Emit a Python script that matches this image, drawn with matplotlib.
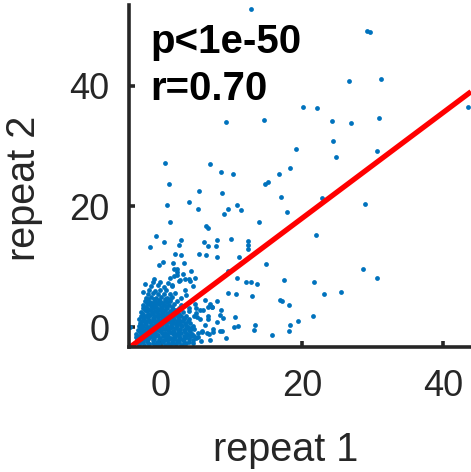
import matplotlib
matplotlib.use("Agg")
import matplotlib.pyplot as plt
import numpy as np

plt.rcParams["font.family"] = ["Liberation Sans", "DejaVu Sans"]

# dense core of the repeat-1 / repeat-2 scatter, one row per line
core_x = [
    -3.1, -2.4, -1.7, -0.9, -0.3, 0.6, 1.3, 2.1, 2.9, 3.6,
    -3.4, -2.8, -2.0, -1.2, -0.6, 0.2, 0.9, 1.6, 2.3, 3.1, 3.9, 4.6,
    -3.6, -2.9, -2.3, -1.5, -0.8, -0.1, 0.7, 1.4, 2.0, 2.7, 3.5, 4.2, 5.0,
    -3.5, -2.7, -2.1, -1.3, -0.6, 0.1, 0.8, 1.5, 2.2, 2.9, 3.7, 4.4, 5.3,
    -3.3, -2.5, -1.8, -1.1, -0.4, 0.3, 1.0, 1.7, 2.4, 3.2, 3.9, 4.7,
    -3.2, -2.6, -1.9, -1.2, -0.5, 0.2, 0.9, 1.6, 2.3, 3.0, 3.8, 4.5,
    -3.0, -2.3, -1.6, -0.9, -0.2, 0.5, 1.2, 1.9, 2.6, 3.4, 4.1,
    -3.1, -2.4, -1.7, -1.0, -0.3, 0.4, 1.1, 1.8, 2.5, 3.3, 4.0,
    -2.9, -2.2, -1.5, -0.8, -0.1, 0.6, 1.3, 2.0, 2.8, 3.6,
    -2.8, -2.0, -1.3, -0.6, 0.1, 0.8, 1.5, 2.3, 3.1,
    -2.6, -1.9, -1.2, -0.5, 0.2, 0.9, 1.7, 2.5,
    -2.5, -1.8, -1.0, -0.3, 0.4, 1.1, 1.9, 2.8,
    -2.3, -1.6, -0.9, -0.2, 0.5, 1.3, 2.2,
    -2.2, -1.4, -0.7, 0.0, 0.8, 1.6,
    -1.9, -1.1, -0.4, 0.4, 1.2,
    -1.7, -0.9, -0.1, 0.7,
    -1.4, -0.5, 0.4, 1.5,
    -1.1, -0.2, 1.0,
]
core_y = [
    -2.9, -3.0, -2.8, -2.95, -2.85, -3.0, -2.9, -2.8, -3.05, -2.7,
    -2.2, -2.4, -2.3, -2.15, -2.45, -2.3, -2.2, -2.5, -2.3, -2.1, -2.4, -2.2,
    -1.7, -1.6, -1.85, -1.7, -1.55, -1.8, -1.65, -1.75, -1.6, -1.85, -1.7, -1.5, -1.8,
    -1.1, -1.2, -0.95, -1.1, -1.25, -1.0, -1.15, -1.05, -1.2, -1.0, -1.1, -1.2, -0.9,
    -0.5, -0.4, -0.6, -0.45, -0.55, -0.35, -0.5, -0.6, -0.4, -0.55, -0.45, -0.3,
    0.1, 0.2, 0.0, 0.15, 0.05, 0.2, 0.1, 0.0, 0.25, 0.1, 0.0, 0.2,
    0.7, 0.65, 0.8, 0.7, 0.6, 0.75, 0.85, 0.7, 0.6, 0.75, 0.7,
    1.3, 1.4, 1.25, 1.35, 1.2, 1.3, 1.45, 1.3, 1.2, 1.4, 1.3,
    1.9, 1.8, 2.0, 1.85, 1.95, 1.9, 1.8, 2.0, 1.9, 1.85,
    2.5, 2.6, 2.45, 2.55, 2.5, 2.4, 2.6, 2.5, 2.45,
    3.1, 3.0, 3.2, 3.05, 3.15, 3.1, 3.0, 3.2,
    3.7, 3.8, 3.65, 3.75, 3.7, 3.6, 3.8, 3.7,
    4.3, 4.2, 4.4, 4.3, 4.25, 4.35, 4.3,
    4.9, 5.0, 4.85, 4.95, 4.9, 5.0,
    5.5, 5.6, 5.45, 5.55, 5.5,
    6.1, 6.0, 6.2, 6.1,
    6.8, 6.9, 6.7, 6.85,
    7.4, 7.5, 7.3,
]

# points sitting between the core rows, where the blob is solid
fill_x = [
    -3.2, -2.5, -1.8, -1.1, -0.4, 0.3, 1.0, 1.7, 2.5, 3.3,
    -3.3, -2.6, -1.9, -1.0, -0.3, 0.4, 1.1, 1.8, 2.5, 3.2, 4.0,
    -3.2, -2.5, -1.8, -1.1, -0.4, 0.3, 1.0, 1.8, 2.5, 3.2, 3.9, 4.7,
    -3.0, -2.3, -1.6, -0.9, -0.2, 0.5, 1.2, 1.9, 2.6, 3.4, 4.1,
    -2.9, -2.2, -1.5, -0.8, -0.1, 0.6, 1.3, 2.0, 2.7, 3.5, 4.2,
    -2.8, -2.1, -1.4, -0.7, 0.0, 0.7, 1.4, 2.1, 2.9, 3.6,
    -2.7, -2.0, -1.3, -0.6, 0.1, 0.8, 1.5, 2.2, 3.0, 3.8,
    -2.6, -1.9, -1.2, -0.5, 0.2, 0.9, 1.6, 2.4, 3.2,
    -2.5, -1.8, -1.1, -0.4, 0.3, 1.0, 1.7, 2.6,
    -2.3, -1.6, -0.9, -0.2, 0.5, 1.3, 2.1,
    -2.1, -1.4, -0.7, 0.0, 0.7, 1.5,
    -2.0, -1.3, -0.6, 0.1, 0.9,
    -1.8, -1.0, -0.3, 0.5, 1.2,
]
fill_y = [
    -2.6, -2.55, -2.7, -2.6, -2.65, -2.5, -2.6, -2.7, -2.55, -2.6,
    -2.0, -1.95, -2.05, -2.0, -1.9, -2.1, -2.0, -1.95, -2.05, -2.0, -1.9,
    -1.4, -1.35, -1.45, -1.4, -1.3, -1.45, -1.4, -1.35, -1.5, -1.4, -1.3, -1.4,
    -0.8, -0.75, -0.85, -0.8, -0.7, -0.9, -0.8, -0.75, -0.85, -0.8, -0.7,
    -0.2, -0.15, -0.25, -0.2, -0.1, -0.3, -0.2, -0.15, -0.25, -0.2, -0.1,
    0.4, 0.45, 0.35, 0.4, 0.5, 0.3, 0.4, 0.45, 0.35, 0.4,
    1.0, 1.05, 0.95, 1.0, 1.1, 0.9, 1.0, 1.05, 0.95, 1.0,
    1.6, 1.65, 1.55, 1.6, 1.7, 1.5, 1.6, 1.65, 1.55,
    2.2, 2.25, 2.15, 2.2, 2.3, 2.1, 2.2, 2.25,
    2.8, 2.85, 2.75, 2.8, 2.9, 2.7, 2.8,
    3.4, 3.45, 3.35, 3.4, 3.5, 3.3,
    4.0, 4.05, 3.95, 4.0, 4.1,
    4.6, 4.65, 4.55, 4.6, 4.7,
]

# looser points around the core
halo_x = [
    4.6, 5.3, 5.8, 6.2, 5.5, 6.8, 7.4, 5.0, 6.6, 7.9, 8.3, 4.9, 6.0, 8.8, 5.7,
    6.9, 4.4, 4.7, 3.9, 6.2, 6.6, 8.4, 5.5, 4.8, 6.6, 7.2, 8.0, 5.1, 4.0,
    2.0, 2.8, 3.4, 1.6, 2.5, 3.9, 4.6, 1.2, 3.1, 2.2, 4.2, 3.6, -2.6, -2.3,
    -1.0, -4.4, 1.9, 2.2, 3.3, 2.7, 3.4, 4.1, 4.8, 2.2, 1.7, 2.8,
]
halo_y = [
    -2.6, -1.6, -0.8, 0.4, 1.3, -1.2, -0.3, 2.4, 1.9, 0.9, -0.6, 3.1, 2.9, 1.5, -2.3,
    -2.1, -0.2, 1.8, 2.6, 4.5, 3.4, 2.0, 2.8, 3.9, 1.4, 3.3, 4.3, 1.7, 3.1,
    5.6, 4.9, 6.2, 6.9, 7.6, 7.9, 6.8, 8.1, 8.8, 9.7, 9.3, 5.3, 5.9, 7.1,
    8.0, 0.0, 9.7, 8.6, 10.6, 7.8, 7.9, 7.7, 8.1, 9.2, 10.6, 11.9,
]

# sparse outliers further out
far_x = [
    12.8, 29.2, 29.7, 26.7, 31.2, 20.1, 22.1, 43.6, 9.2, 14.6, 24.3, 27.0, 30.9,
    24.4, 19.1, 30.6, 24.9, 0.5, 7.0, 18.3, 8.5, 10.2, 16.8, 1.1, 14.7, 15.2,
    5.4, 8.7, 17.0, 22.8, 4.0, 0.9, 10.8, 11.3, 9.5, 5.2, 8.9, 29.0, 1.3, 6.4,
    6.7, 13.9, 17.9, -0.7, 0.4, 2.8, 2.5, -1.6, 6.1, 6.7, 7.9, 7.8, 10.0, 12.3,
    12.3, 12.3, 22.0, 2.0, 5.4, 6.4, 8.0, 11.1, 14.9, 0.3, -0.3, 1.8, 9.5, 10.8,
    12.1, 12.8, 13.6, 17.4, 21.7, 28.7, 30.7, 25.6, 23.1, 9.5, 10.7, 12.9, 16.9,
    17.1, 18.2, 7.0, 7.2, 8.5, 10.5, 13.3, 13.2, 19.5, 18.3, 18.2, 21.6, 15.8,
    9.2, 10.9, 10.3, 8.6, 7.4, 6.5, 5.8,
]
far_y = [
    52.8, 49.1, 48.9, 40.8, 41.2, 36.5, 36.4, 36.5, 34.0, 34.4, 34.2, 33.9, 34.6,
    30.8, 29.6, 29.2, 28.2, 27.2, 27.1, 26.3, 25.7, 25.3, 25.3, 23.7, 23.8, 24.0,
    22.5, 22.2, 21.5, 21.4, 20.7, 20.2, 20.2, 19.4, 19.6, 19.6, 18.8, 20.4, 17.4, 16.8,
    16.5, 17.5, 19.0, 15.1, 14.1, 14.4, 13.6, 13.2, 14.1, 13.5, 14.4, 13.5, 14.6, 14.3,
    13.6, 13.0, 15.3, 12.2, 12.1, 11.9, 11.7, 11.7, 10.5, 10.8, 10.3, 8.4, 9.3, 8.2,
    7.4, 7.5, 7.1, 7.8, 7.5, 9.7, 8.2, 5.8, 5.5, 5.7, 5.5, 5.1, 4.5,
    4.4, 3.6, 3.8, 3.3, 2.8, 1.7, 0.3, -0.4, 1.0, 0.3, -0.6, 1.8, -1.3,
    -1.8, 0.2, 0.05, -0.6, -0.8, -1.05, -0.6,
]

# least-squares line through the points
fit_slope = 0.875
fit_intercept = 0.53
p_label = "p<1e-50"
r_label = "r=0.70"

x_ticks = [0, 20, 40]
y_ticks = [0, 20, 40]
x_limits = (-4.55, 44.0)
y_limits = (-3.3, 53.4)

dot_color = "#0072BD"
axis_color = "#262626"

fig = plt.figure(figsize=(4.71, 4.72), dpi=100)
ax = fig.add_axes([129 / 471, 125 / 472, 342 / 471, 342 / 472])

xs = np.concatenate([core_x, fill_x, halo_x, far_x])
ys = np.concatenate([core_y, fill_y, halo_y, far_y])
ax.scatter(xs, ys, s=12, color=dot_color, linewidths=0, zorder=2)

line_x = np.array(x_limits)
ax.plot(line_x, fit_slope * line_x + fit_intercept, color="red", lw=3.8,
        solid_capstyle="butt", zorder=3)

ax.set_xlim(*x_limits)
ax.set_ylim(*y_limits)
ax.set_xticks(x_ticks)
ax.set_yticks(y_ticks)

for side in ("top", "right"):
    ax.spines[side].set_visible(False)
for side in ("left", "bottom"):
    ax.spines[side].set_linewidth(2.6)
    ax.spines[side].set_color(axis_color)
    ax.spines[side].set_zorder(4)

ax.tick_params(direction="in", length=4.5, width=2.6, color=axis_color,
               labelsize=26, labelcolor=axis_color)
ax.tick_params(axis="x", pad=16)
ax.tick_params(axis="y", pad=14)

ax.set_xlabel("repeat 1", fontsize=28.5, color=axis_color)
ax.set_ylabel("repeat 2", fontsize=28.5, color=axis_color)
ax.xaxis.set_label_coords(0.459, -0.245)
ax.yaxis.set_label_coords(-0.25, 0.465)

fig.text(150 / 471, 1 - 53 / 472, p_label, fontsize=29, fontweight="bold",
         va="baseline", ha="left")
fig.text(150 / 471, 1 - 100 / 472, r_label, fontsize=29, fontweight="bold",
         va="baseline", ha="left")

fig.savefig("out.png", dpi=100)
